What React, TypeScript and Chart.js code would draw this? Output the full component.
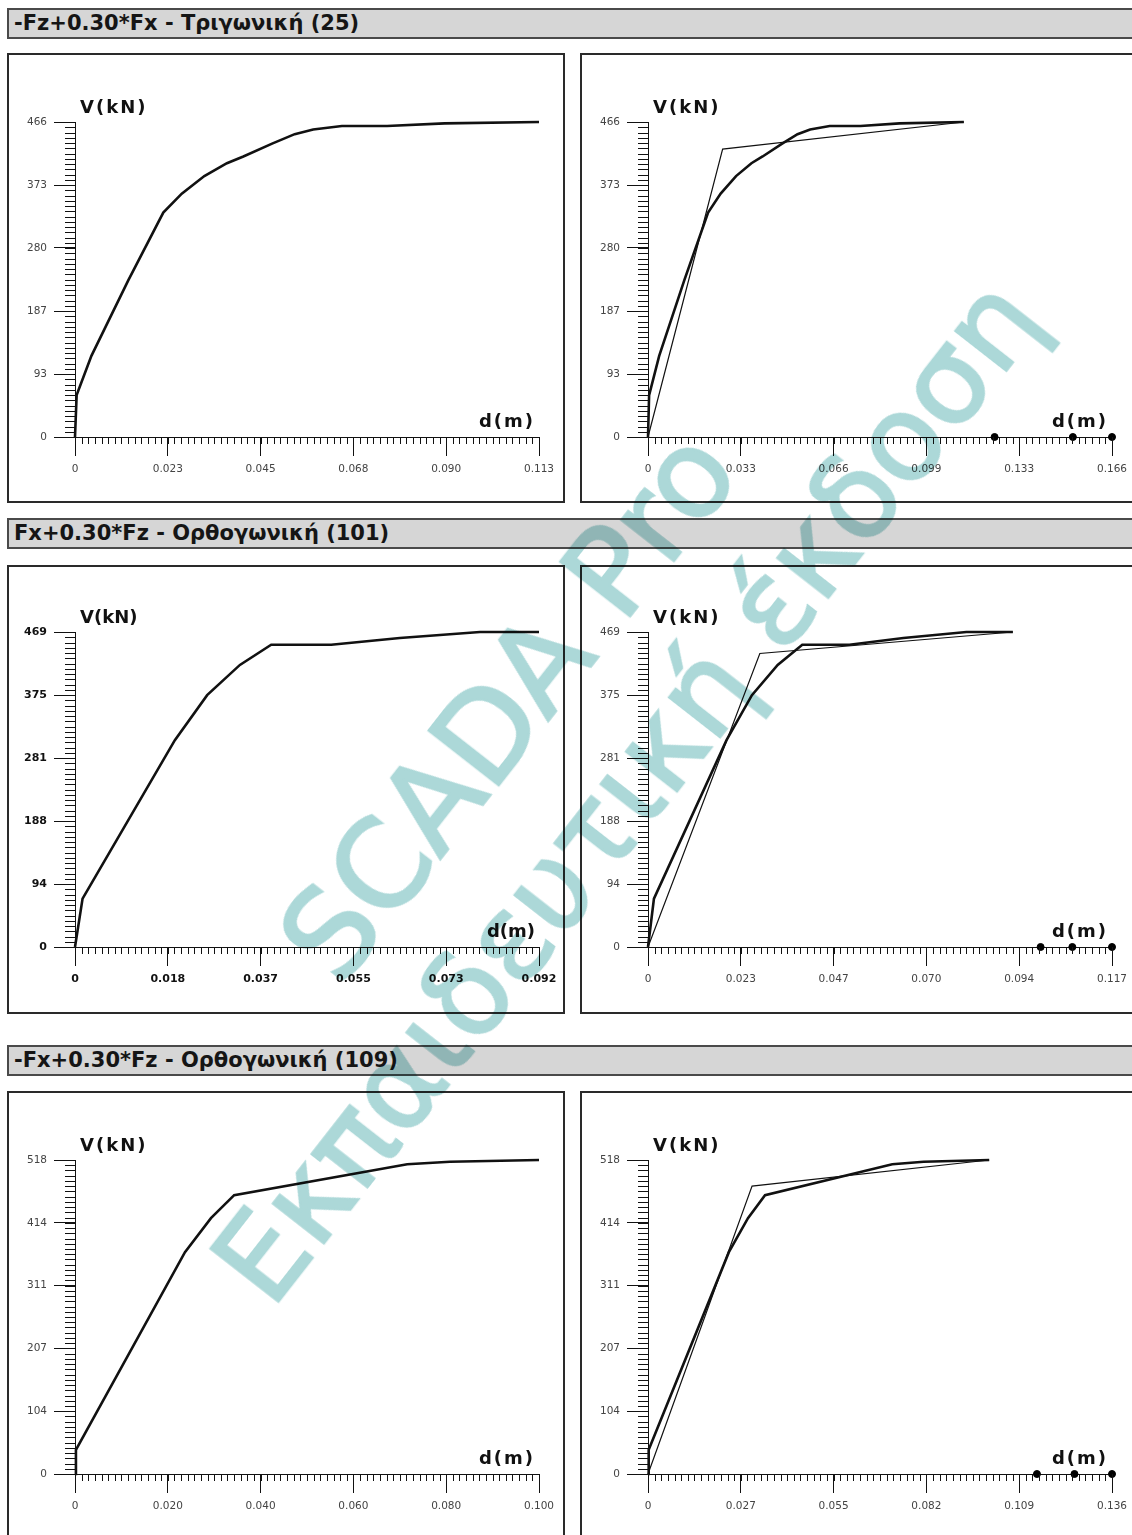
import React, { useEffect, useRef } from 'react';
import { Chart, registerables } from 'chart.js';
Chart.register(...registerables);

// ---------------- data ----------------
const titles = [
  '-Fz+0.30*Fx - Τριγωνική (25)',
  'Fx+0.30*Fz - Ορθογωνική (101)',
  '-Fx+0.30*Fz - Ορθογωνική (109)',
];
const yTitle = 'V(kN)';
const xTitle = 'd(m)';
const watermark1 = 'SCADA Pro';
const watermark2 = 'Εκπαιδευτική έκδοση';

// combination 1
const c1D = [0, 0.0004, 0.004, 0.013, 0.0215, 0.026, 0.0315, 0.037, 0.041, 0.048, 0.0535, 0.058, 0.065, 0.076, 0.09, 0.113];
const c1V = [0, 62, 120, 232, 332, 360, 386, 405, 415, 434, 448, 455, 460, 460, 464, 466];
const c1BiD = [0, 0.0267, 0.113];
const c1BiV = [0, 426, 466];
const c1Marks = [0.124, 0.152, 0.166];
const c1YMax = 466;
const c1YLabels = ['0', '93', '187', '280', '373', '466'];
const c1LeftXMax = 0.113;
const c1LeftXLabels = ['0', '0.023', '0.045', '0.068', '0.090', '0.113'];
const c1RightXMax = 0.166;
const c1RightXLabels = ['0', '0.033', '0.066', '0.099', '0.133', '0.166'];

// combination 2
const c2D = [0, 0.0015, 0.0198, 0.0262, 0.0327, 0.0389, 0.0508, 0.0644, 0.0803, 0.092];
const c2V = [0, 72, 308, 375, 420, 450, 450, 460, 469, 469];
const c2BiD = [0, 0.0282, 0.092];
const c2BiV = [0, 437, 469];
const c2Marks = [0.099, 0.107, 0.117];
const c2YMax = 469;
const c2YLabels = ['0', '94', '188', '281', '375', '469'];
const c2LeftXMax = 0.092;
const c2LeftXLabels = ['0', '0.018', '0.037', '0.055', '0.073', '0.092'];
const c2RightXMax = 0.117;
const c2RightXLabels = ['0', '0.023', '0.047', '0.070', '0.094', '0.117'];

// combination 3
const c3D = [0, 0.0002, 0.0237, 0.0293, 0.0343, 0.0716, 0.0808, 0.1];
const c3V = [0, 40, 366, 422, 460, 511, 515, 518];
const c3BiD = [0, 0.0305, 0.1];
const c3BiV = [0, 475, 518];
const c3Marks = [0.114, 0.125, 0.136];
const c3YMax = 518;
const c3YLabels = ['0', '104', '207', '311', '414', '518'];
const c3LeftXMax = 0.1;
const c3LeftXLabels = ['0', '0.020', '0.040', '0.060', '0.080', '0.100'];
const c3RightXMax = 0.136;
const c3RightXLabels = ['0', '0.027', '0.055', '0.082', '0.109', '0.136'];

// ---------------- layout ----------------
const PANEL_W = 558;
const PLOT_L = 68;
const PLOT_R = 532;
const FONT = '"DejaVu Sans", Verdana, sans-serif';
const X_MINOR = 14;
const Y_MINOR = 12;
const WM_COLOR = 'rgb(172,216,216)';

const axisExtras = {
  id: 'axisExtras',
  afterDraw(chart: any, _args: any, opts: any) {
    const { ctx, chartArea, scales } = chart;
    const xs = scales.x;
    const ys = scales.y;
    ctx.save();
    ctx.strokeStyle = '#111';
    ctx.lineWidth = 1;
    ctx.beginPath();
    const xStep = opts.xMax / 5 / X_MINOR;
    for (let i = 0; i <= 5 * X_MINOR; i++) {
      const px = Math.round(xs.getPixelForValue(i * xStep)) + 0.5;
      ctx.moveTo(px, chartArea.bottom);
      ctx.lineTo(px, chartArea.bottom + 7);
    }
    const yStep = opts.yMax / 5 / Y_MINOR;
    for (let i = 0; i <= 5 * Y_MINOR; i++) {
      const py = Math.round(ys.getPixelForValue(i * yStep)) + 0.5;
      ctx.moveTo(chartArea.left - 10, py);
      ctx.lineTo(chartArea.left, py);
    }
    ctx.stroke();
    ctx.fillStyle = '#111';
    ctx.font = `${opts.heavy ? 900 : 'bold'} 18px ${FONT}`;
    try { (ctx as any).letterSpacing = opts.heavy ? '0px' : '2px'; } catch (e) {}
    ctx.textBaseline = 'middle';
    ctx.textAlign = 'left';
    ctx.fillText(yTitle, chartArea.left + 5, chartArea.top - 14);
    ctx.textAlign = 'right';
    ctx.fillText(xTitle, chartArea.right - 4, chartArea.bottom - 15);
    ctx.restore();
  },
};

type PanelProps = {
  left: number; top: number; height: number; plotTop: number; plotBottom: number;
  curveD: number[]; curveV: number[];
  biD?: number[]; biV?: number[]; marks?: number[];
  xMax: number; yMax: number; xLabels: string[]; yLabels: string[]; heavy?: boolean;
};

function Panel(p: PanelProps) {
  const ref = useRef<HTMLCanvasElement>(null);
  useEffect(() => {
    const canvas = ref.current!;
    const pTop = p.plotTop - p.top;
    const pBottom = p.plotBottom - p.top;
    const datasets: any[] = [
      {
        data: p.curveD.map((x, i) => ({ x, y: p.curveV[i] })),
        borderColor: '#111', borderWidth: 2.6, pointRadius: 0, fill: false, tension: 0, clip: false,
      },
    ];
    if (p.biD && p.biV) {
      datasets.push({
        data: p.biD.map((x, i) => ({ x, y: p.biV![i] })),
        borderColor: '#111', borderWidth: 1.2, pointRadius: 0, fill: false, tension: 0, clip: false,
      });
    }
    if (p.marks) {
      datasets.push({
        data: p.marks.map((x) => ({ x, y: 0 })),
        showLine: false, pointRadius: 3.5, pointBackgroundColor: '#000', pointBorderColor: '#000', clip: false,
      });
    }
    const tickFont = { family: FONT, size: p.heavy ? 11 : 10.5, weight: p.heavy ? 'bold' : 'normal' };
    const chart = new Chart(canvas, {
      type: 'line',
      data: { datasets },
      plugins: [axisExtras as any],
      options: {
        animation: false,
        responsive: false,
        devicePixelRatio: 1,
        layout: { padding: { left: 0, top: pTop, right: PANEL_W - PLOT_R, bottom: 0 } },
        plugins: {
          legend: { display: false },
          tooltip: { enabled: false },
          axisExtras: { xMax: p.xMax, yMax: p.yMax, heavy: p.heavy },
        } as any,
        scales: {
          x: {
            type: 'linear', min: 0, max: p.xMax,
            afterBuildTicks: (s: any) => { s.ticks = p.xLabels.map((_, i) => ({ value: (p.xMax * i) / 5 })); },
            afterFit: (s: any) => { s.height = p.height - pBottom; },
            ticks: {
              callback: (_v: any, i: number) => p.xLabels[i],
              font: tickFont as any, color: p.heavy ? '#111' : '#444', padding: 7,
              maxRotation: 0, autoSkip: false,
            },
            grid: { drawOnChartArea: false, drawTicks: true, tickLength: 19, tickColor: '#111', tickWidth: 1 },
            border: { display: true, color: '#111', width: 1 },
          },
          y: {
            type: 'linear', min: 0, max: p.yMax,
            afterBuildTicks: (s: any) => { s.ticks = p.yLabels.map((_, i) => ({ value: (p.yMax * i) / 5 })); },
            afterFit: (s: any) => { s.width = PLOT_L; },
            ticks: {
              callback: (_v: any, i: number) => p.yLabels[i],
              font: tickFont as any, color: p.heavy ? '#111' : '#444', padding: 7, autoSkip: false,
            },
            grid: { drawOnChartArea: false, drawTicks: true, tickLength: 21, tickColor: '#111', tickWidth: 1 },
            border: { display: true, color: '#111', width: 1 },
          },
        } as any,
      },
    } as any);
    return () => chart.destroy();
  }, []);
  return (
    <>
      <canvas
        ref={ref}
        width={PANEL_W}
        height={p.height}
        style={{ position: 'absolute', left: p.left, top: p.top, width: PANEL_W, height: p.height, background: '#fff' }}
      />
      <div
        style={{
          position: 'absolute', left: p.left, top: p.top, width: PANEL_W, height: p.height,
          border: '2px solid #2a2a2a', boxSizing: 'border-box', pointerEvents: 'none',
        }}
      />
    </>
  );
}

function Header({ top, text }: { top: number; text: string }) {
  return (
    <div
      style={{
        position: 'absolute', left: 7, top, width: 1140, height: 31, boxSizing: 'border-box',
        background: '#d6d6d6', border: '2px solid #4a4a4a', fontFamily: FONT, fontWeight: 'bold',
        fontSize: 21, lineHeight: '27px', paddingLeft: 5, color: '#151515', whiteSpace: 'nowrap',
      }}
    >
      {text}
    </div>
  );
}

export default function App() {
  const wmStyle: React.CSSProperties = {
    position: 'absolute', fontFamily: FONT, color: WM_COLOR, whiteSpace: 'nowrap',
    lineHeight: 1, pointerEvents: 'none', transformOrigin: 'center center',
    mixBlendMode: 'multiply', WebkitTextStroke: `2.5px ${WM_COLOR}`,
  } as any;
  return (
    <div style={{ position: 'absolute', left: 0, top: 0, width: 1132, height: 1535, overflow: 'hidden', background: '#fff', isolation: 'isolate' }}>
      <Header top={8} text={titles[0]} />
      <Panel left={7} top={53} height={450} plotTop={122} plotBottom={437}
        curveD={c1D} curveV={c1V} xMax={c1LeftXMax} yMax={c1YMax} xLabels={c1LeftXLabels} yLabels={c1YLabels} />
      <Panel left={580} top={53} height={450} plotTop={122} plotBottom={437}
        curveD={c1D} curveV={c1V} biD={c1BiD} biV={c1BiV} marks={c1Marks}
        xMax={c1RightXMax} yMax={c1YMax} xLabels={c1RightXLabels} yLabels={c1YLabels} />

      <Header top={518} text={titles[1]} />
      <Panel left={7} top={565} height={449} plotTop={632} plotBottom={947} heavy
        curveD={c2D} curveV={c2V} xMax={c2LeftXMax} yMax={c2YMax} xLabels={c2LeftXLabels} yLabels={c2YLabels} />
      <Panel left={580} top={565} height={449} plotTop={632} plotBottom={947}
        curveD={c2D} curveV={c2V} biD={c2BiD} biV={c2BiV} marks={c2Marks}
        xMax={c2RightXMax} yMax={c2YMax} xLabels={c2RightXLabels} yLabels={c2YLabels} />

      <Header top={1045} text={titles[2]} />
      <Panel left={7} top={1091} height={450} plotTop={1160} plotBottom={1474}
        curveD={c3D} curveV={c3V} xMax={c3LeftXMax} yMax={c3YMax} xLabels={c3LeftXLabels} yLabels={c3YLabels} />
      <Panel left={580} top={1091} height={450} plotTop={1160} plotBottom={1474}
        curveD={c3D} curveV={c3V} biD={c3BiD} biV={c3BiV} marks={c3Marks}
        xMax={c3RightXMax} yMax={c3YMax} xLabels={c3RightXLabels} yLabels={c3YLabels} />

      <div style={{ ...wmStyle, left: 508, top: 705, fontSize: 122, transform: 'translate(-50%,-50%) rotate(-52deg)' }}>
        {watermark1}
      </div>
      <div style={{ ...wmStyle, left: 626, top: 790, fontSize: 118, transform: 'translate(-50%,-50%) rotate(-52deg)' }}>
        {watermark2}
      </div>
    </div>
  );
}
